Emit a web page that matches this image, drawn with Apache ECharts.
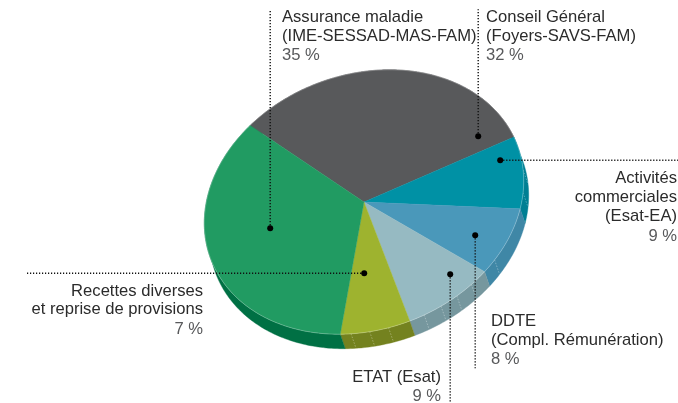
<!DOCTYPE html>
<html>
<head>
<meta charset="utf-8">
<style>html,body{margin:0;padding:0;background:#fff}#c{width:678px;height:403px}</style>
<script src="https://cdn.jsdelivr.net/npm/echarts@6/dist/echarts.min.js"></script>
</head>
<body>
<div id="c"></div>
<script>
// ---- data ----
const categories = ['Conseil Général', 'Activités', 'DDTE', 'ETAT (Esat)', 'Recettes diverses', 'Assurance maladie'];
const details = [['(Foyers-SAVS-FAM)'], ['commerciales', '(Esat-EA)'], ['(Compl. Rémunération)'], [], ['et reprise de provisions'], ['(IME-SESSAD-MAS-FAM)']];
const values = [32, 9, 8, 9, 7, 35];

// ---- style ----
const topColors  = ['#58595B', '#0091A5', '#4A98BA', '#96BAC2', '#9EB32F', '#219B62'];
const sideColors = ['#454648', '#007F93', '#3F87A6', '#76979E', '#74821F', '#007044'];

// ---- layout ----
const cx = 364, cy = 202, a = 163.5, b = 127.5, tilt = -20 * Math.PI / 180;
const startDeg = -119.6, depthX = 5, depthY = 14.5;
const ribDeg = [110.5, 103.8, 97, 83.7, 77, 70.3, 63.6, 51, 21, 11];
const callouts = [
  {x: 486, y: [21.5, 40.5, 60], align: 'left', dot: [478, 136], end: [478, 9]},
  {x: 677, y: [182.5, 201.5, 221, 241], align: 'right', dot: [500, 160], end: [678, 160]},
  {x: 491, y: [325.5, 344.5, 364], align: 'left', dot: [475, 235], end: [475, 368]},
  {x: 441, y: [381.5, 401], align: 'right', dot: [450, 274], end: [450, 403]},
  {x: 203, y: [295.5, 314, 333.5], align: 'right', dot: [364, 273], end: [25, 273]},
  {x: 282, y: [21.5, 40.5, 60], align: 'left', dot: [270, 228], end: [270, 9]}
];
const font = '"Liberation Sans", Arial, sans-serif', fontSize = 16.6, baseShift = 4;

function pt(deg, ox, oy) {
  const t = deg * Math.PI / 180;
  const u = a * Math.cos(t), v = b * Math.sin(t);
  return [cx + u * Math.cos(tilt) - v * Math.sin(tilt) + (ox || 0),
          cy + u * Math.sin(tilt) + v * Math.cos(tilt) + (oy || 0)];
}
function arc(d0, d1, ox, oy) {
  const pts = [], n = Math.max(2, Math.ceil((d1 - d0) / 1));
  for (let i = 0; i <= n; i++) pts.push(pt(d0 + (d1 - d0) * i / n, ox, oy));
  return pts;
}
const total = values.reduce((s, v) => s + v, 0);

function renderItem(params, api) {
  const i = params.dataIndex, val = api.value(0);
  let before = 0;
  for (let k = 0; k < i; k++) before += values[k];
  const d0 = startDeg + before / total * 360, d1 = d0 + val / total * 360;
  const rim = arc(d0, d1), low = arc(d0, d1, depthX, depthY);
  const kids = [];
  // side wall
  kids.push({type: 'polygon', z2: 1, shape: {points: rim.concat(low.slice().reverse())},
    style: {fill: sideColors[i], stroke: sideColors[i], lineWidth: 0.4}});
  // ribs on the wall
  ribDeg.filter(r => r > d0 && r < d1).forEach(r => {
    const p = pt(r), q = pt(r, depthX, depthY);
    kids.push({type: 'line', z2: 2, shape: {x1: p[0], y1: p[1], x2: q[0], y2: q[1]},
      style: {stroke: 'rgba(255,255,255,0.4)', lineWidth: 0.8, lineDash: [1.5, 1.5]}});
  });
  // top face
  kids.push({type: 'polygon', z2: 3, shape: {points: [[cx, cy]].concat(rim)},
    style: {fill: topColors[i], stroke: topColors[i], lineWidth: 0.4}});
  // pale rim
  kids.push({type: 'polyline', z2: 4, shape: {points: rim},
    style: {fill: null, stroke: 'rgba(255,255,255,0.35)', lineWidth: 0.7}});
  // callout
  const c = callouts[i];
  kids.push({type: 'line', z2: 5, shape: {x1: c.dot[0] + 0.2, y1: c.dot[1] + 0.2, x2: c.end[0] + 0.2, y2: c.end[1] + 0.2},
    style: {stroke: '#111', lineWidth: 1.4, lineDash: [1.2, 1.8]}});
  kids.push({type: 'circle', z2: 6, shape: {cx: c.dot[0] + 0.2, cy: c.dot[1] + 0.2, r: 3}, style: {fill: '#000'}});
  const lines = [categories[i]].concat(details[i]);
  lines.forEach((t, j) => kids.push({type: 'text', z2: 7, style: {
    text: t, x: c.x, y: c.y[j] + baseShift, align: c.align, verticalAlign: 'bottom', fill: '#2b2b2b',
    font: fontSize + 'px ' + font}}));
  kids.push({type: 'text', z2: 7, style: {
    text: val + ' %', x: c.x, y: c.y[lines.length] + baseShift, align: c.align, verticalAlign: 'bottom', fill: '#58595B',
    font: fontSize + 'px ' + font}});
  return {type: 'group', children: kids};
}

const chart = echarts.init(document.getElementById('c'), null, {renderer: 'canvas'});
chart.setOption({
  animation: false,
  backgroundColor: '#fff',
  series: [{
    type: 'custom',
    coordinateSystem: 'none',
    silent: true,
    renderItem: renderItem,
    data: values.map((v, i) => ({name: categories[i], value: [v]}))
  }]
});
</script>
</body>
</html>
